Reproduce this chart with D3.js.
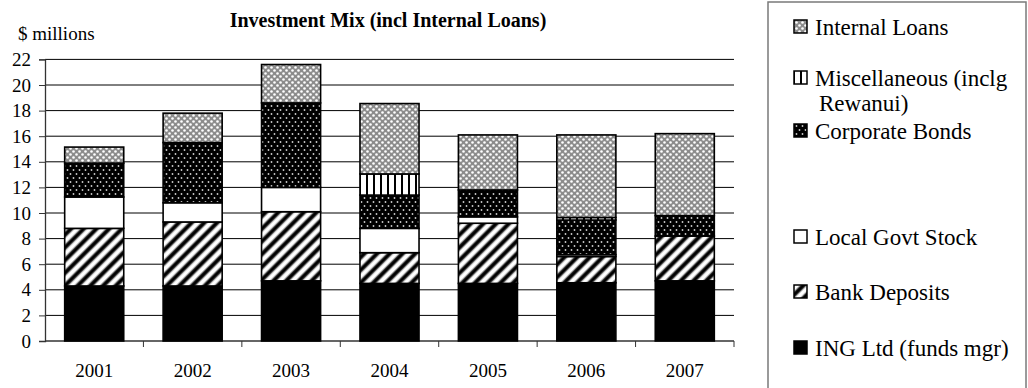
<!DOCTYPE html>
<html>
<head>
<meta charset="utf-8">
<script src="https://cdn.jsdelivr.net/npm/d3@7/dist/d3.min.js"></script>
<style>
  html, body { margin: 0; padding: 0; background: #fff; }
  svg { display: block; }
</style>
</head>
<body>
<svg id="chart" width="1028" height="388"></svg>
<script>
// Investment mix by year, $ millions (stacked bottom to top)
const years = ["2001", "2002", "2003", "2004", "2005", "2006", "2007"];
const ingLtd        = [4.3, 4.3, 4.7, 4.5, 4.5, 4.55, 4.7];
const bankDeposits  = [4.5, 5.0, 5.4, 2.4, 4.7, 2.05, 3.5];
const localGovt     = [2.45, 1.5, 1.9, 1.9, 0.5, 0.15, 0];
const corporate     = [2.65, 4.7, 6.6, 2.6, 2.1, 2.7, 1.6];
const miscellaneous = [0, 0, 0, 1.65, 0, 0.2, 0];
const internalLoans = [1.25, 2.3, 3.0, 5.5, 4.3, 6.45, 6.4];
const yTicks = [0, 2, 4, 6, 8, 10, 12, 14, 16, 18, 20, 22];

const SERIF = "'Liberation Serif', 'Times New Roman', Times, serif";

const seriesKeys = ["ing", "bank", "local", "corp", "misc", "internal"];
const seriesValues = {
  ing: ingLtd, bank: bankDeposits, local: localGovt,
  corp: corporate, misc: miscellaneous, internal: internalLoans
};
const fills = {
  ing: "#000", bank: "url(#pBank)", local: "#fff",
  corp: "url(#pCorp)", misc: "url(#pMisc)", internal: "url(#pInternal)"
};
// legend is listed top to bottom
const legendItems = [
  { key: "internal", lines: ["Internal Loans"], y: 27 },
  { key: "misc", lines: ["Miscellaneous (inclg", "Rewanui)"], y: 78 },
  { key: "corp", lines: ["Corporate Bonds"], y: 131 },
  { key: "local", lines: ["Local Govt Stock"], y: 237 },
  { key: "bank", lines: ["Bank Deposits"], y: 292 },
  { key: "ing", lines: ["ING Ltd (funds mgr)"], y: 348 }
];

const rows = years.map((yr, i) => {
  const r = { year: yr };
  seriesKeys.forEach(k => r[k] = seriesValues[k][i]);
  return r;
});

const svg = d3.select("#chart");
const defs = svg.append("defs");

// Internal loans: grey texture with white dots
const pI = defs.append("pattern").attr("id", "pInternal")
  .attr("patternUnits", "userSpaceOnUse").attr("width", 6).attr("height", 6);
pI.append("rect").attr("width", 6).attr("height", 6).attr("fill", "#8c8c8c");
pI.append("circle").attr("cx", 1.5).attr("cy", 1.5).attr("r", 1.3).attr("fill", "#fff");
pI.append("circle").attr("cx", 4.5).attr("cy", 4.5).attr("r", 1.3).attr("fill", "#fff");

// Corporate bonds: black with light dots
const pC = defs.append("pattern").attr("id", "pCorp")
  .attr("patternUnits", "userSpaceOnUse").attr("width", 6).attr("height", 8);
pC.append("rect").attr("width", 6).attr("height", 8).attr("fill", "#000");
pC.append("circle").attr("cx", 1.5).attr("cy", 2).attr("r", 0.9).attr("fill", "#ccc");
pC.append("circle").attr("cx", 4.5).attr("cy", 6).attr("r", 0.9).attr("fill", "#ccc");

// Miscellaneous: vertical stripes
const pM = defs.append("pattern").attr("id", "pMisc")
  .attr("patternUnits", "userSpaceOnUse").attr("width", 7).attr("height", 7);
pM.append("rect").attr("width", 7).attr("height", 7).attr("fill", "#fff");
pM.append("rect").attr("x", 2).attr("width", 2).attr("height", 7).attr("fill", "#000");

// Bank deposits: soft diagonal stripes
const g = defs.append("linearGradient").attr("id", "gStripe")
  .attr("x1", 0).attr("x2", 1).attr("y1", 0).attr("y2", 0);
[[0, "#fff"], [0.22, "#fff"], [0.42, "#000"], [0.68, "#000"], [0.88, "#fff"], [1, "#fff"]]
  .forEach(([o, c]) => g.append("stop").attr("offset", o).attr("stop-color", c));
const pB = defs.append("pattern").attr("id", "pBank")
  .attr("patternUnits", "userSpaceOnUse").attr("width", 9).attr("height", 9)
  .attr("patternTransform", "rotate(45)");
pB.append("rect").attr("width", 9).attr("height", 9).attr("fill", "url(#gStripe)");

// Scales
const x = d3.scaleBand().domain(years).range([45, 734]).paddingInner(0.4).paddingOuter(0.2);
const y = d3.scaleLinear().domain([0, 22]).range([341, 59.4]);

// Gridlines
svg.append("g").selectAll("line").data(yTicks.filter(t => t > 0)).join("line")
  .attr("x1", 45).attr("x2", 734)
  .attr("y1", d => y(d)).attr("y2", d => y(d))
  .attr("stroke", "#000").attr("stroke-width", 1);

// Y axis
const yAxis = svg.append("g").attr("transform", "translate(45,0)")
  .call(d3.axisLeft(y).tickValues(yTicks).tickSize(6).tickPadding(8));
yAxis.select(".domain").attr("stroke", "#333").attr("stroke-width", 1.3);
yAxis.selectAll(".tick line").attr("stroke", "#333");
yAxis.selectAll(".tick text")
  .style("font-family", SERIF).style("font-size", "19px").attr("fill", "#000");

// X axis with ticks on category boundaries
const xAxisG = svg.append("g").attr("transform", "translate(0,341)");
xAxisG.append("line").attr("x1", 45).attr("x2", 734).attr("y1", 0).attr("y2", 0)
  .attr("stroke", "#333").attr("stroke-width", 1.3);
const step = x.step();
const bounds = d3.range(years.length + 1).map(i => x(years[0]) - x.paddingOuter() * step + i * step);
xAxisG.selectAll("line.b").data(bounds.slice(1)).join("line").attr("class", "b")
  .attr("x1", d => d).attr("x2", d => d).attr("y1", 0).attr("y2", 6)
  .attr("stroke", "#333");
xAxisG.selectAll("text").data(years).join("text")
  .attr("x", d => x(d) + x.bandwidth() / 2).attr("y", 36)
  .attr("text-anchor", "middle")
  .style("font-family", SERIF).style("font-size", "19px").text(d => d);

// Stacked bars
const stacked = d3.stack().keys(seriesKeys)(rows);
svg.append("g").selectAll("g").data(stacked).join("g")
  .attr("fill", d => fills[d.key])
  .selectAll("rect").data(d => d.filter(p => p[1] - p[0] > 0)).join("rect")
  .attr("x", d => x(d.data.year))
  .attr("width", x.bandwidth())
  .attr("y", d => y(d[1]))
  .attr("height", d => y(d[0]) - y(d[1]))
  .attr("stroke", "#000").attr("stroke-width", 1.6);

// Title and unit label
svg.append("text").attr("x", 388).attr("y", 27).attr("text-anchor", "middle")
  .style("font-family", SERIF).style("font-size", "20px").style("font-weight", "bold")
  .text("Investment Mix (incl Internal Loans)");
svg.append("text").attr("x", 18).attr("y", 40)
  .style("font-family", SERIF).style("font-size", "19px").text("$ millions");

// Legend
svg.append("rect").attr("x", 768).attr("y", 2).attr("width", 258).attr("height", 400)
  .attr("fill", "none").attr("stroke", "#7a7a7a").attr("stroke-width", 1.5);
const lg = svg.append("g").selectAll("g").data(legendItems).join("g");
lg.append("rect").attr("x", 794).attr("y", d => d.y - 7).attr("width", 13).attr("height", 13)
  .attr("fill", d => fills[d.key]).attr("stroke", "#000").attr("stroke-width", 1.5);
lg.append("text").attr("x", 815).attr("y", d => d.y + 8)
  .style("font-family", SERIF).style("font-size", "23px")
  .selectAll("tspan").data(d => d.lines).join("tspan")
  .attr("x", (t, i) => i === 0 ? 815 : 819)
  .attr("dy", (t, i) => i === 0 ? 0 : 25)
  .text(t => t);
</script>
</body>
</html>
